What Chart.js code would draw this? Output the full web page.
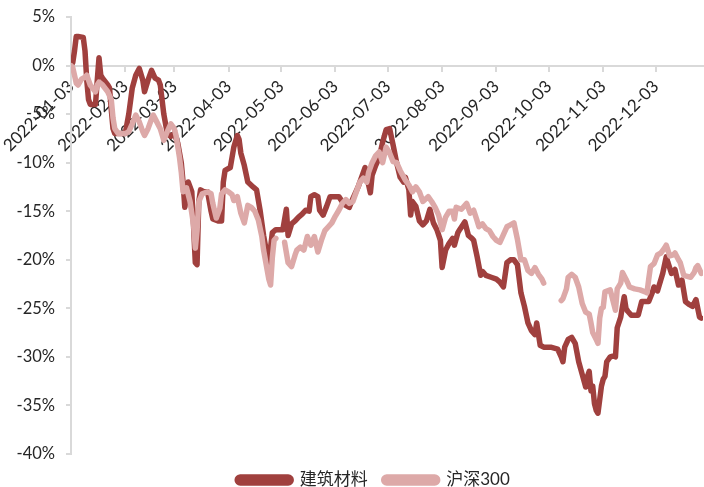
<!DOCTYPE html>
<html lang="zh-CN">
<head>
<meta charset="utf-8">
<title>建筑材料 vs 沪深300</title>
<script src="https://cdn.jsdelivr.net/npm/chart.js@4.4.1/dist/chart.umd.min.js"></script>
<style>
  html, body { margin: 0; padding: 0; background: #ffffff; }
  #wrap { width: 704px; height: 487px; }
</style>
</head>
<body>
<div id="wrap"><canvas id="chart" width="704" height="487"></canvas></div>
<script>
// 2022 cumulative returns (%) since the first trading day
const buildDates = [
  '2022-01-03', '2022-01-04', '2022-01-05', '2022-01-06', '2022-01-07', '2022-01-10', '2022-01-11', '2022-01-12',
  '2022-01-13', '2022-01-14', '2022-01-17', '2022-01-18', '2022-01-19', '2022-01-20', '2022-01-21', '2022-01-24',
  '2022-01-25', '2022-01-26', '2022-01-27', '2022-01-28', '2022-01-30', '2022-02-03', '2022-02-05', '2022-02-07',
  '2022-02-09', '2022-02-11', '2022-02-13', '2022-02-14', '2022-02-16', '2022-02-18', '2022-02-20', '2022-02-22',
  '2022-02-23', '2022-02-25', '2022-02-27', '2022-03-01', '2022-03-03', '2022-03-05', '2022-03-07', '2022-03-08',
  '2022-03-09', '2022-03-10', '2022-03-11', '2022-03-13', '2022-03-14', '2022-03-15', '2022-03-16', '2022-03-17',
  '2022-03-18', '2022-03-20', '2022-03-22', '2022-03-24', '2022-03-25', '2022-03-28', '2022-03-30', '2022-03-31',
  '2022-04-01', '2022-04-04', '2022-04-06', '2022-04-08', '2022-04-09', '2022-04-10', '2022-04-12', '2022-04-14',
  '2022-04-17', '2022-04-19', '2022-04-21', '2022-04-23', '2022-04-25', '2022-04-26', '2022-04-28', '2022-04-30',
  '2022-05-04', '2022-05-06', '2022-05-07', '2022-05-09', '2022-05-11', '2022-05-13', '2022-05-15', '2022-05-17',
  '2022-05-19', '2022-05-20', '2022-05-22', '2022-05-24', '2022-05-25', '2022-05-27', '2022-05-29', '2022-05-31',
  '2022-06-05', '2022-06-08', '2022-06-11', '2022-06-13', '2022-06-16', '2022-06-18', '2022-06-20', '2022-06-22',
  '2022-06-23', '2022-06-24', '2022-06-26', '2022-06-28', '2022-06-30', '2022-07-02', '2022-07-04', '2022-07-06',
  '2022-07-08', '2022-07-10', '2022-07-12', '2022-07-13', '2022-07-15', '2022-07-16', '2022-07-17', '2022-07-19',
  '2022-07-21', '2022-07-23', '2022-07-25', '2022-07-27', '2022-07-29', '2022-07-31', '2022-08-02', '2022-08-03',
  '2022-08-05', '2022-08-07', '2022-08-09', '2022-08-10', '2022-08-12', '2022-08-13', '2022-08-16', '2022-08-18',
  '2022-08-20', '2022-08-21', '2022-08-23', '2022-08-25', '2022-08-26', '2022-08-28', '2022-08-31', '2022-09-03',
  '2022-09-05', '2022-09-07', '2022-09-09', '2022-09-11', '2022-09-13', '2022-09-15', '2022-09-17', '2022-09-19',
  '2022-09-21', '2022-09-23', '2022-09-25', '2022-09-26', '2022-09-28', '2022-09-30', '2022-10-04', '2022-10-08',
  '2022-10-10', '2022-10-11', '2022-10-12', '2022-10-14', '2022-10-16', '2022-10-18', '2022-10-20', '2022-10-22',
  '2022-10-24', '2022-10-25', '2022-10-26', '2022-10-27', '2022-10-28', '2022-10-29', '2022-10-30', '2022-10-31',
  '2022-11-02', '2022-11-03', '2022-11-04', '2022-11-05', '2022-11-07', '2022-11-09', '2022-11-10', '2022-11-11',
  '2022-11-13', '2022-11-14', '2022-11-15', '2022-11-16', '2022-11-17', '2022-11-19', '2022-11-23', '2022-11-25',
  '2022-11-29', '2022-12-01', '2022-12-02', '2022-12-04', '2022-12-06', '2022-12-07', '2022-12-09', '2022-12-10',
  '2022-12-12', '2022-12-14', '2022-12-16', '2022-12-18', '2022-12-20', '2022-12-22', '2022-12-24', '2022-12-26',
  '2022-12-28', '2022-12-29'
];
const buildValues = [
  0.0, 0.3, 1.5, 3.0, 3.0, 2.9, 1.5, -1.5,
  -3.5, -4.0, -4.0, -1.5, 0.8, -1.0, -1.3, -2.0,
  -2.3, -4.5, -6.5, -7.0, -7.0, -7.0, -5.0, -2.3,
  -1.0, -0.3, -1.5, -2.7, -1.5, -0.5, -1.3, -1.5,
  -2.0, -5.0, -7.0, -7.3, -7.0, -8.0, -10.0, -12.0,
  -14.6, -13.5, -12.0, -13.0, -16.5, -20.3, -20.5, -14.0,
  -12.8, -13.0, -13.0, -15.0, -15.8, -16.0, -16.0, -12.0,
  -10.8, -10.5, -8.4, -7.2, -7.6, -9.0, -10.3, -12.0,
  -12.5, -12.8, -14.9, -17.5, -19.5, -20.3, -17.2, -16.9,
  -16.9, -14.8, -17.5, -16.3, -16.0, -15.6, -15.3, -14.9,
  -15.0, -13.5, -13.3, -13.5, -14.9, -15.4, -14.5, -13.5,
  -13.5, -14.3, -14.6, -13.7, -12.5, -11.5, -10.5, -12.3,
  -13.1, -11.3, -10.3, -9.5, -7.9, -6.6, -6.5, -8.2,
  -10.0, -11.5, -12.0, -11.5, -12.8, -15.4, -14.0, -14.5,
  -16.0, -16.4, -16.0, -14.8, -16.2, -16.9, -18.0, -20.8,
  -19.0, -18.3, -17.8, -18.5, -17.2, -16.9, -16.1, -17.5,
  -17.8, -18.0, -19.7, -21.6, -21.2, -21.6, -21.8, -22.0,
  -22.3, -22.8, -20.3, -20.0, -20.0, -20.5, -23.4, -24.8,
  -26.5, -27.3, -27.7, -26.5, -28.8, -29.0, -29.0, -29.2,
  -30.0, -30.5, -29.0, -28.2, -28.0, -28.6, -30.5, -31.8,
  -33.1, -32.0, -31.5, -33.5, -33.0, -34.8, -35.5, -35.8,
  -33.0, -32.3, -32.0, -30.5, -30.0, -29.9, -30.0, -27.0,
  -25.9, -24.8, -23.8, -25.0, -25.3, -25.7, -25.7, -24.3,
  -24.3, -23.4, -22.8, -23.2, -22.0, -21.4, -19.7, -20.3,
  -21.4, -21.0, -22.6, -22.1, -24.3, -24.6, -24.8, -24.1,
  -25.9, -26.0
];

// null marks market holidays where the index series has no value
const hs300Dates = [
  '2022-01-03', '2022-01-04', '2022-01-05', '2022-01-06', '2022-01-07', '2022-01-09', '2022-01-11', '2022-01-12',
  '2022-01-13', '2022-01-14', '2022-01-17', '2022-01-18', '2022-01-19', '2022-01-21', '2022-01-24', '2022-01-26',
  '2022-01-27', '2022-01-28', '2022-01-30', '2022-02-03', '2022-02-05', '2022-02-07', '2022-02-09', '2022-02-11',
  '2022-02-13', '2022-02-14', '2022-02-16', '2022-02-18', '2022-02-19', '2022-02-21', '2022-02-23', '2022-02-25',
  '2022-02-27', '2022-03-01', '2022-03-03', '2022-03-04', '2022-03-06', '2022-03-07', '2022-03-08', '2022-03-10',
  '2022-03-12', '2022-03-14', '2022-03-15', '2022-03-16', '2022-03-17', '2022-03-19', '2022-03-22', '2022-03-24',
  '2022-03-25', '2022-03-27', '2022-03-29', '2022-03-30', '2022-03-31', '2022-04-01', '2022-04-03', '2022-04-05',
  '2022-04-06', '2022-04-08', '2022-04-10', '2022-04-12', '2022-04-14', '2022-04-16', '2022-04-18', '2022-04-20',
  '2022-04-22', '2022-04-23', '2022-04-24', '2022-04-26', '2022-04-27', '2022-04-28', '2022-04-29', '2022-04-30',
  '2022-05-02', '2022-05-05', '2022-05-07', '2022-05-09', '2022-05-11', '2022-05-12', '2022-05-14', '2022-05-16',
  '2022-05-18', '2022-05-20', '2022-05-22', '2022-05-24', '2022-05-26', '2022-05-28', '2022-05-30', '2022-06-01',
  '2022-06-03', '2022-06-05', '2022-06-07', '2022-06-09', '2022-06-11', '2022-06-13', '2022-06-15', '2022-06-17',
  '2022-06-19', '2022-06-21', '2022-06-22', '2022-06-24', '2022-06-26', '2022-06-28', '2022-06-30', '2022-07-02',
  '2022-07-04', '2022-07-06', '2022-07-08', '2022-07-10', '2022-07-13', '2022-07-15', '2022-07-17', '2022-07-19',
  '2022-07-21', '2022-07-23', '2022-07-26', '2022-07-28', '2022-07-30', '2022-08-01', '2022-08-03', '2022-08-05',
  '2022-08-07', '2022-08-09', '2022-08-10', '2022-08-11', '2022-08-14', '2022-08-17', '2022-08-19', '2022-08-21',
  '2022-08-23', '2022-08-24', '2022-08-26', '2022-08-28', '2022-08-30', '2022-09-01', '2022-09-03', '2022-09-05',
  '2022-09-07', '2022-09-09', '2022-09-11', '2022-09-13', '2022-09-15', '2022-09-17', '2022-09-19', '2022-09-21',
  '2022-09-23', '2022-09-25', '2022-09-27', '2022-09-29', '2022-09-30', '2022-10-03', '2022-10-10', '2022-10-11',
  '2022-10-13', '2022-10-14', '2022-10-16', '2022-10-18', '2022-10-20', '2022-10-22', '2022-10-24', '2022-10-26',
  '2022-10-27', '2022-10-28', '2022-10-30', '2022-10-31', '2022-11-01', '2022-11-02', '2022-11-03', '2022-11-04',
  '2022-11-07', '2022-11-09', '2022-11-10', '2022-11-11', '2022-11-13', '2022-11-14', '2022-11-16', '2022-11-18',
  '2022-11-21', '2022-11-24', '2022-11-27', '2022-11-28', '2022-11-29', '2022-11-30', '2022-12-02', '2022-12-04',
  '2022-12-06', '2022-12-08', '2022-12-09', '2022-12-11', '2022-12-13', '2022-12-14', '2022-12-16', '2022-12-17',
  '2022-12-19', '2022-12-21', '2022-12-23', '2022-12-25', '2022-12-26', '2022-12-27', '2022-12-29'
];
const hs300Values = [
  0.0, -0.2, -1.0, -1.8, -2.0, -1.4, -1.2, -1.0,
  -1.5, -2.0, -2.7, -2.0, -1.7, -2.0, -2.7, -3.5,
  -5.4, -6.5, -7.0, -7.0, -6.8, -6.0, -5.1, -5.8,
  -6.8, -7.2, -6.5, -5.5, -5.1, -5.8, -6.5, -7.7,
  -6.8, -6.0, -6.5, -7.2, -9.5, -11.0, -13.0, -12.6,
  -14.0, -16.4, -18.8, -17.0, -14.0, -13.2, -13.0, -13.2,
  -14.2, -15.7, -14.7, -13.2, -13.0, -12.8, -13.0, -13.3,
  -13.9, -13.5, -15.2, -16.2, -14.4, -14.6, -15.0, -15.9,
  -17.6, -19.0, -20.0, -22.0, -22.6, -19.8, -18.0, -17.8,
  null, -18.2, -20.3, -20.7, -19.5, -19.0, -18.7, -19.0,
  -17.6, -18.5, -17.6, -19.2, -18.0, -17.0, -16.6, -16.2,
  -15.5, -14.9, -14.2, -13.8, -14.2, -14.0, -13.0, -12.0,
  -11.6, -12.0, -11.0, -10.0, -9.3, -8.9, -10.0, -8.4,
  -9.0, -9.9, -10.0, -10.8, -11.8, -12.3, -13.0, -12.5,
  -13.0, -14.0, -13.5, -14.0, -14.6, -15.4, -16.9, -15.6,
  -15.0, -15.0, -15.8, -14.6, -14.8, -14.2, -15.2, -14.9,
  -16.0, -16.6, -16.3, -16.8, -17.0, -17.6, -18.0, -18.2,
  -17.4, -16.6, -16.4, -16.2, -17.9, -20.0, -20.0, -21.1,
  -21.4, -20.8, -21.5, -22.0, -22.4, null, -24.2, -24.0,
  -23.0, -21.8, -21.5, -21.8, -22.8, -24.5, -25.4, -25.6,
  -26.5, -27.5, -28.2, -28.6, -26.0, -25.0, -24.9, -23.3,
  -23.1, -24.5, -25.2, -23.0, -22.4, -21.3, -22.0, -22.8,
  -23.0, -23.1, -23.3, -23.4, -22.0, -20.7, -20.4, -19.5,
  -19.3, -18.8, -18.5, -19.6, -19.5, -19.3, -20.0, -20.3,
  -21.6, -21.7, -21.8, -21.3, -20.8, -20.6, -21.4
];

const tickLabels = [
  '2022-01-03', '2022-02-03', '2022-03-03', '2022-04-03', '2022-05-03', '2022-06-03',
  '2022-07-03', '2022-08-03', '2022-09-03', '2022-10-03', '2022-11-03', '2022-12-03'
];
const lastDate = '2022-12-30';

const startMs = Date.UTC(2022, 0, 3);
const dayOf = (s) => {
  const [y, m, d] = s.split('-').map(Number);
  return (Date.UTC(y, m - 1, d) - startMs) / 86400000;
};
const toPoints = (dates, values) => dates.map((d, i) => ({ x: dayOf(d), y: values[i] }));
const tickDays = tickLabels.map(dayOf);

const axisGrey = '#d9d9d9';
const textColor = '#262626';
const baseFont = "Lato, 'Noto Sans CJK SC', sans-serif";
const legendFontSize = 17;
const legendPad = 16;

// moves the legend row so it sits centred under the plot, near the bottom edge
const legendShift = {
  id: 'legendShift',
  afterLayout(chart) {
    const lg = chart.legend;
    if (!lg) return;
    const dy = 480 - (lg.top + legendPad + legendFontSize / 2);
    const dx = 22;
    lg.top += dy;
    lg.bottom += dy;
    lg.left += dx;
    lg.right += dx;
  }
};

new Chart(document.getElementById('chart').getContext('2d'), {
  type: 'line',
  data: {
    datasets: [
      {
        label: '建筑材料',
        data: toPoints(buildDates, buildValues),
        borderColor: '#a0403e',
        backgroundColor: '#a0403e',
        borderWidth: 5.5,
        pointRadius: 0,
        tension: 0,
        borderJoinStyle: 'round',
        borderCapStyle: 'round',
        spanGaps: false,
        order: 1,
      },
      {
        label: '沪深300',
        data: toPoints(hs300Dates, hs300Values),
        borderColor: '#dda9a8',
        backgroundColor: '#dda9a8',
        borderWidth: 5.5,
        pointRadius: 0,
        tension: 0,
        borderJoinStyle: 'round',
        borderCapStyle: 'round',
        spanGaps: false,
        order: 0,
      },
    ],
  },
  options: {
    responsive: false,
    animation: false,
    devicePixelRatio: 1,
    layout: { padding: { top: 17, right: 1, left: 0, bottom: -10 } },
    plugins: {
      tooltip: { enabled: false },
      legend: {
        position: 'bottom',
        labels: {
          boxWidth: 54,
          boxHeight: 6,
          useBorderRadius: true,
          borderRadius: 3,
          padding: legendPad,
          color: textColor,
          font: { family: baseFont, size: legendFontSize },
          sort: (a, b) => a.datasetIndex - b.datasetIndex,
        },
      },
    },
    scales: {
      x: {
        type: 'linear',
        position: { y: 0 },
        min: 0,
        max: dayOf(lastDate),
        afterBuildTicks: (scale) => {
          scale.ticks = tickDays.map((value) => ({ value }));
        },
        // rotated labels hang past the left edge; keep the plot from shrinking for them
        afterFit: (scale) => {
          scale.paddingLeft = 0;
          scale.paddingRight = 0;
        },
        grid: { drawOnChartArea: false, drawTicks: true, tickLength: 5, color: axisGrey, lineWidth: 2 },
        border: { display: true, color: axisGrey, width: 2 },
        ticks: {
          autoSkip: false,
          minRotation: 45,
          maxRotation: 45,
          padding: 6,
          color: textColor,
          font: { family: baseFont, size: 17 },
          callback: (value, index) => tickLabels[index],
        },
      },
      y: {
        min: -40,
        max: 5,
        afterFit: (scale) => {
          scale.width = 71;
          scale.paddingTop = 0;
          scale.paddingBottom = 0;
        },
        grid: { drawOnChartArea: false, drawTicks: true, tickLength: 5, color: axisGrey, lineWidth: 2 },
        border: { display: true, color: axisGrey, width: 2 },
        ticks: {
          stepSize: 5,
          padding: 11,
          color: textColor,
          font: { family: baseFont, size: 16.5 },
          callback: (value) => value + '%',
        },
      },
    },
  },
  plugins: [legendShift],
});
</script>
</body>
</html>
